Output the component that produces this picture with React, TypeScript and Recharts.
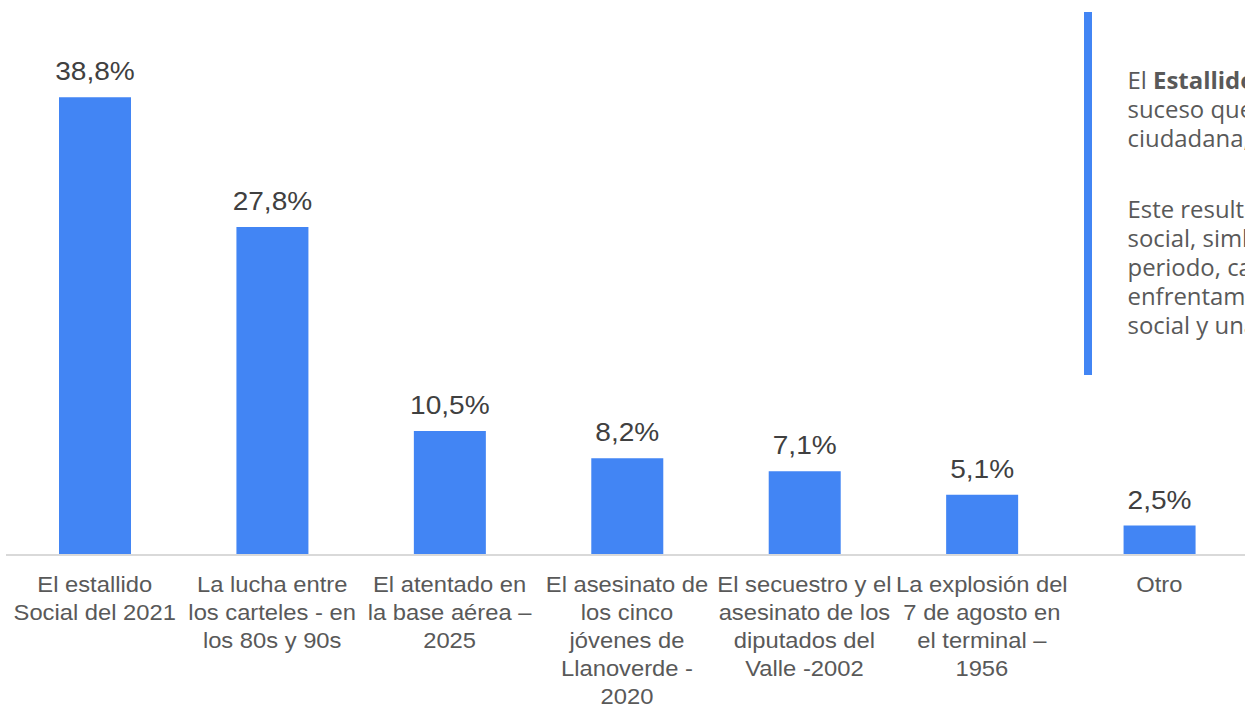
import React from "react";
import { BarChart, Bar, XAxis, YAxis, LabelList } from "recharts";

const categories = [
  "El estallido\nSocial del 2021",
  "La lucha entre\nlos carteles - en\nlos 80s y 90s",
  "El atentado en\nla base aérea –\n2025",
  "El asesinato de\nlos cinco\njóvenes de\nLlanoverde -\n2020",
  "El secuestro y el\nasesinato de los\ndiputados del\nValle -2002",
  "La explosión del\n7 de agosto en\nel terminal –\n1956",
  "Otro",
];
const values = [38.8, 27.8, 10.5, 8.2, 7.1, 5.1, 2.5];

const panelPara1 = [
  [{ t: "El ", b: false }, { t: "Estallido Social", b: true }, { t: " del 2021 fue el", b: false }],
  [{ t: "suceso que más marcó la seguridad", b: false }],
  [{ t: "ciudadana, según los encuestados.", b: false }],
];
const panelPara2 = [
  "Este resultado evidencia el impacto",
  "social, simbólico y emocional de ese",
  "periodo, caracterizado por el",
  "enfrentamiento, la movilización",
  "social y una profunda crisis.",
];

const data = categories.map((name, i) => ({ name, value: values[i] }));

const BLUE = "#4285F4";
const FONT = "'Liberation Sans', Arial, sans-serif";

const Tick = (props: any) => {
  const { x, y, payload } = props;
  const lines = String(payload.value).split("\n");
  return (
    <g transform={`translate(${x},${y + 37}) scale(1.08,1)`}>
      <text textAnchor="middle" fontFamily={FONT} fontSize={22} fill="#595959">
        {lines.map((l, i) => (
          <tspan key={i} x={0} y={i * 28}>
            {l}
          </tspan>
        ))}
      </text>
    </g>
  );
};

const ValueLabel = (props: any) => {
  const { x, y, width, value } = props;
  const txt = Number(value).toFixed(1).replace(".", ",") + "%";
  return (
    <g transform={`translate(${x + width / 2},${y - 17}) scale(1.08,1)`}>
      <text textAnchor="middle" fontFamily={FONT} fontSize={26} fill="#404040">
        {txt}
      </text>
    </g>
  );
};

export default function App() {
  return (
    <div
      style={{
        position: "fixed",
        left: 0,
        top: 0,
        width: 1245,
        height: 705,
        overflow: "hidden",
        background: "#ffffff",
      }}
    >
      <BarChart
        width={1260}
        height={705}
        data={data}
        margin={{ top: 24, right: 12, left: 6, bottom: 0 }}
      >
        <YAxis hide domain={[0, 45]} />
        <XAxis
          dataKey="name"
          height={150}
          interval={0}
          tickLine={false}
          tickSize={0}
          tickMargin={0}
          axisLine={{ stroke: "#d9d9d9", strokeWidth: 2 }}
          tick={<Tick />}
        />
        <Bar dataKey="value" fill={BLUE} barSize={72} isAnimationActive={false}>
          <LabelList dataKey="value" content={<ValueLabel />} />
        </Bar>
      </BarChart>
      <svg
        width={1245}
        height={705}
        style={{ position: "absolute", left: 0, top: 0, pointerEvents: "none" }}
      >
        <rect x={1084} y={12} width={8} height={363} fill={BLUE} />
        <g transform="translate(1127.5,0) scale(1.04,1)" fontFamily="'Open Sans', sans-serif" fontSize={23} fill="#595959">
          {panelPara1.map((line, i) => (
            <text key={"a" + i} x={0} y={89 + i * 29}>
              {line.map((s, j) => (
                <tspan key={j} fontWeight={s.b ? 700 : 400}>
                  {s.t}
                </tspan>
              ))}
            </text>
          ))}
          {panelPara2.map((line, i) => (
            <text key={"b" + i} x={0} y={218 + i * 29}>
              {line}
            </text>
          ))}
        </g>
      </svg>
    </div>
  );
}
